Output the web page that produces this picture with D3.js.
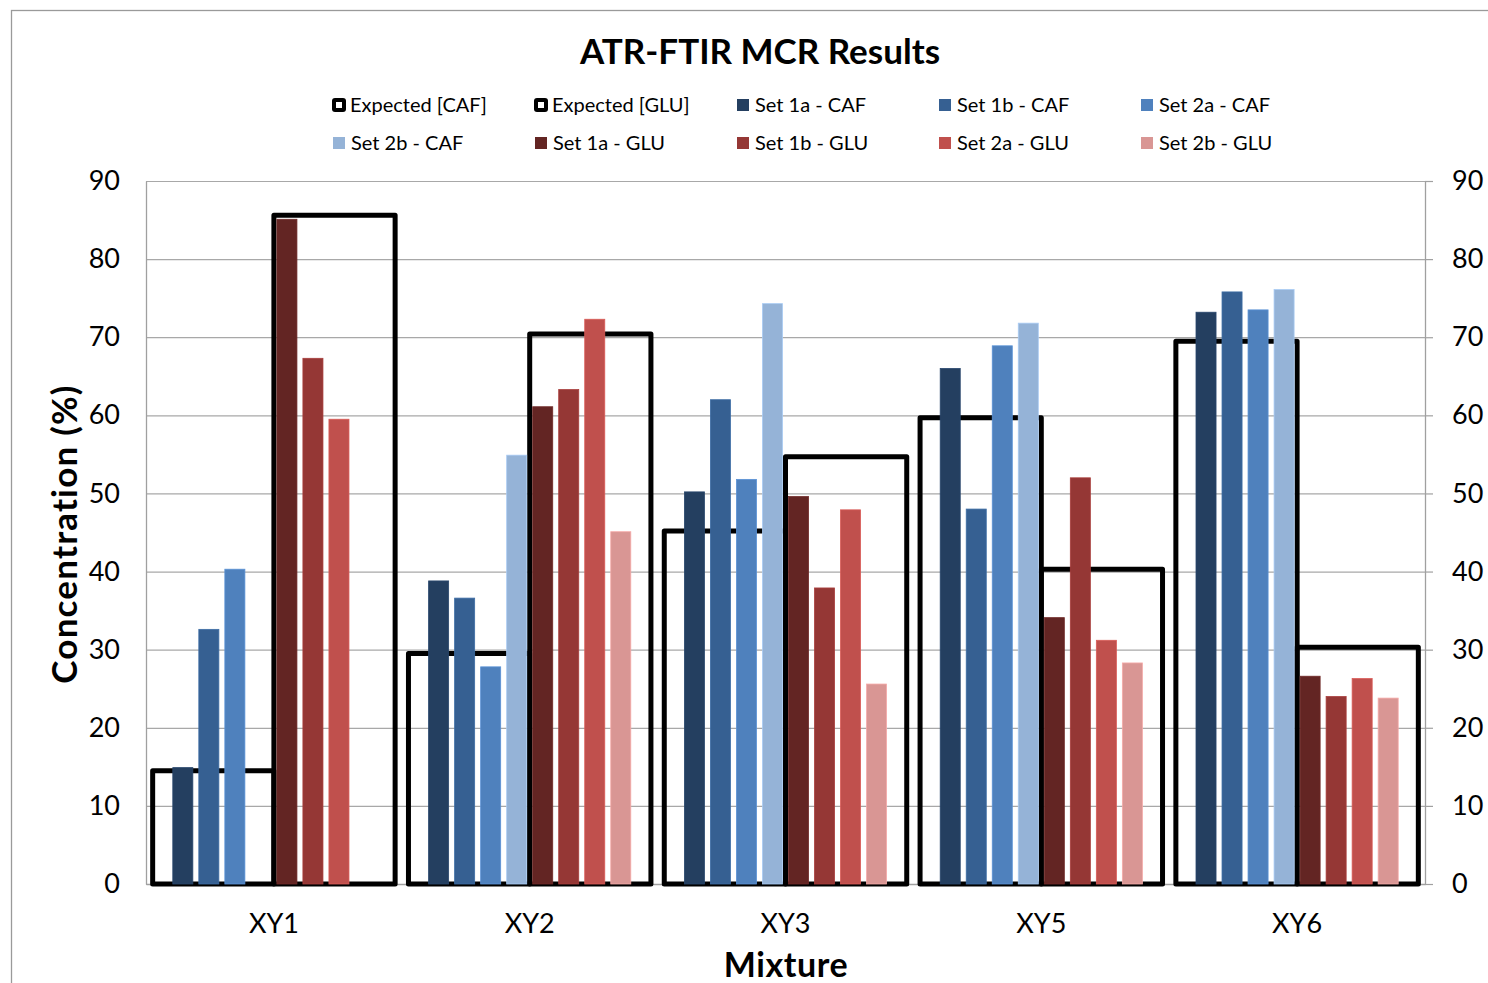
<!DOCTYPE html>
<html>
<head>
<meta charset="utf-8">
<script src="https://cdn.jsdelivr.net/npm/d3@7"></script>
<style>
  html, body { margin: 0; padding: 0; background: #fff; }
  svg { display: block; font-family: Lato, "Open Sans", sans-serif; }
</style>
</head>
<body>
<svg id="chart" width="1488" height="983"></svg>
<script>
// Mixtures on the x axis
const categories = ["XY1", "XY2", "XY3", "XY5", "XY6"];

// Expected concentrations (%) drawn as open outlined bars
const expectedCAF = [14.5, 29.5, 45.2, 59.7, 69.5];
const expectedGLU = [85.6, 70.4, 54.7, 40.3, 30.3];

// MCR results (%) per measurement set; null = no result
const set1aCAF = [14.9, 38.8, 50.2, 66.0, 73.2];
const set1bCAF = [32.6, 36.6, 62.0, 48.0, 75.8];
const set2aCAF = [40.3, 27.8, 51.8, 68.9, 73.5];
const set2bCAF = [null, 54.9, 74.3, 71.8, 76.1];
const set1aGLU = [85.1, 61.1, 49.6, 34.1, 26.6];
const set1bGLU = [67.3, 63.3, 37.9, 52.0, 24.0];
const set2aGLU = [59.5, 72.3, 47.9, 31.2, 26.3];
const set2bGLU = [null, 45.1, 25.6, 28.3, 23.8];

const yTicks = [0, 10, 20, 30, 40, 50, 60, 70, 80, 90];

const seriesNames = ["Set 1a - CAF", "Set 1b - CAF", "Set 2a - CAF", "Set 2b - CAF",
                     "Set 1a - GLU", "Set 1b - GLU", "Set 2a - GLU", "Set 2b - GLU"];
const seriesValues = [set1aCAF, set1bCAF, set2aCAF, set2bCAF, set1aGLU, set1bGLU, set2aGLU, set2bGLU];
const seriesColors = ["#243F60", "#366092", "#4F81BD", "#95B3D7",
                      "#632523", "#953735", "#C0504D", "#D99694"];
const expectedNames = ["Expected [CAF]", "Expected [GLU]"];
const expectedValues = [expectedCAF, expectedGLU];

const svg = d3.select("#chart");

// outer chart frame
svg.append("rect")
  .attr("x", 11.5).attr("y", 10.5)
  .attr("width", 1600).attr("height", 1100)
  .attr("fill", "none").attr("stroke", "#9a9a9a").attr("stroke-width", 1.3);

const plot = { left: 146, right: 1425, top: 181, bottom: 884 };

const y = d3.scaleLinear().domain([0, 90]).range([plot.bottom, plot.top]);
const x0 = d3.scaleBand().domain(categories).range([plot.left, plot.right]);
const bw = x0.bandwidth();
const xs = d3.scaleBand().domain(seriesNames).range([0, bw]).paddingInner(0.23).paddingOuter(1.03);
const xe = d3.scaleBand().domain(expectedNames).range([0, bw]).paddingInner(0).paddingOuter(0.055);
const color = d3.scaleOrdinal().domain(seriesNames).range(seriesColors);

// gridlines
svg.append("g")
  .attr("transform", `translate(${plot.left},0)`)
  .call(d3.axisRight(y).tickValues(yTicks).tickSize(plot.right - plot.left).tickFormat(""))
  .call(g => g.select(".domain").remove())
  .call(g => g.selectAll("line").attr("stroke", "#a8a8a8").attr("stroke-width", 1.2));

// left axis line + labels
svg.append("g")
  .attr("transform", `translate(${plot.left},0)`)
  .call(d3.axisLeft(y).tickValues(yTicks).tickSize(0).tickPadding(26))
  .call(g => g.select(".domain").attr("stroke", "#a0a0a0").attr("stroke-width", 1.3))
  .call(g => g.selectAll("text").attr("font-size", 27).attr("fill", "#000").attr("font-family", "Lato, sans-serif"));

// right axis with outward ticks
svg.append("g")
  .attr("transform", `translate(${plot.right},0)`)
  .call(d3.axisRight(y).tickValues(yTicks).tickSize(8).tickSizeOuter(0).tickPadding(19))
  .call(g => g.select(".domain").attr("stroke", "#a0a0a0").attr("stroke-width", 1.3))
  .call(g => g.selectAll("line").attr("stroke", "#a0a0a0").attr("stroke-width", 1.2))
  .call(g => g.selectAll("text").attr("font-size", 27).attr("fill", "#000").attr("font-family", "Lato, sans-serif"));

// bottom axis
svg.append("g")
  .attr("transform", `translate(0,${plot.bottom})`)
  .call(d3.axisBottom(x0).tickSize(0).tickSizeOuter(0).tickPadding(30))
  .call(g => g.select(".domain").attr("stroke", "#a0a0a0").attr("stroke-width", 1.3))
  .call(g => g.selectAll("text").attr("font-size", 27).attr("fill", "#000").attr("font-family", "Lato, sans-serif"));

// expected values: open black outlines
const expGroups = svg.append("g").selectAll("g")
  .data(categories)
  .join("g")
  .attr("transform", d => `translate(${x0(d)},0)`);

expGroups.selectAll("rect")
  .data((c, i) => expectedNames.map((n, k) => ({ name: n, value: expectedValues[k][i] })))
  .join("rect")
  .attr("x", d => xe(d.name))
  .attr("width", xe.bandwidth())
  .attr("y", d => y(d.value))
  .attr("height", d => y(0) - y(d.value))
  .attr("fill", "none")
  .attr("stroke", "#000")
  .attr("stroke-width", 5)
  .attr("stroke-linejoin", "round");

// measured results
const barGroups = svg.append("g").selectAll("g")
  .data(categories)
  .join("g")
  .attr("transform", d => `translate(${x0(d)},0)`);

barGroups.selectAll("rect")
  .data((c, i) => seriesNames.map((n, k) => ({ name: n, value: seriesValues[k][i] })).filter(d => d.value != null))
  .join("rect")
  .attr("x", d => xs(d.name))
  .attr("width", xs.bandwidth())
  .attr("y", d => y(d.value))
  .attr("height", d => y(0) - y(d.value))
  .attr("fill", d => color(d.name))
  .attr("stroke", d => d3.color(color(d.name)).brighter(0.35))
  .attr("stroke-width", 0.8);

// title
svg.append("text")
  .attr("x", 760).attr("y", 64)
  .attr("text-anchor", "middle")
  .attr("font-size", 35).attr("font-weight", "bold")
  .text("ATR-FTIR MCR Results");

// axis titles
svg.append("text")
  .attr("x", 786).attr("y", 977)
  .attr("text-anchor", "middle")
  .attr("font-size", 34).attr("font-weight", "bold")
  .attr("letter-spacing", 0.6)
  .text("Mixture");

svg.append("text")
  .attr("transform", "translate(77,534) rotate(-90)")
  .attr("text-anchor", "middle")
  .attr("font-size", 35).attr("font-weight", "bold")
  .attr("letter-spacing", 1.2)
  .text("Concentration (%)");

// legend: two rows of five
const legendItems = expectedNames.map(n => ({ name: n, expected: true }))
  .concat(seriesNames.map(n => ({ name: n, expected: false })));
const legCol = d3.scaleLinear().domain([0, 1]).range([332, 534]);
const legRow = d3.scaleLinear().domain([0, 1]).range([105, 143]);

const leg = svg.append("g").selectAll("g")
  .data(legendItems)
  .join("g")
  .attr("transform", (d, i) => `translate(${legCol(i % 5)},${legRow(Math.floor(i / 5))})`);

leg.filter(d => d.expected).append("rect")
  .attr("x", 0).attr("y", -7).attr("width", 14).attr("height", 14)
  .attr("rx", 3).attr("fill", "#000");
leg.filter(d => d.expected).append("rect")
  .attr("x", 4).attr("y", -3).attr("width", 6).attr("height", 6)
  .attr("fill", "#fff");
leg.filter(d => !d.expected).append("rect")
  .attr("x", 1).attr("y", -6).attr("width", 12).attr("height", 12)
  .attr("fill", d => color(d.name));

leg.append("text")
  .attr("x", d => d.expected ? 18 : 19)
  .attr("y", 7)
  .attr("font-size", 20)
  .text(d => d.name);
</script>
</body>
</html>
